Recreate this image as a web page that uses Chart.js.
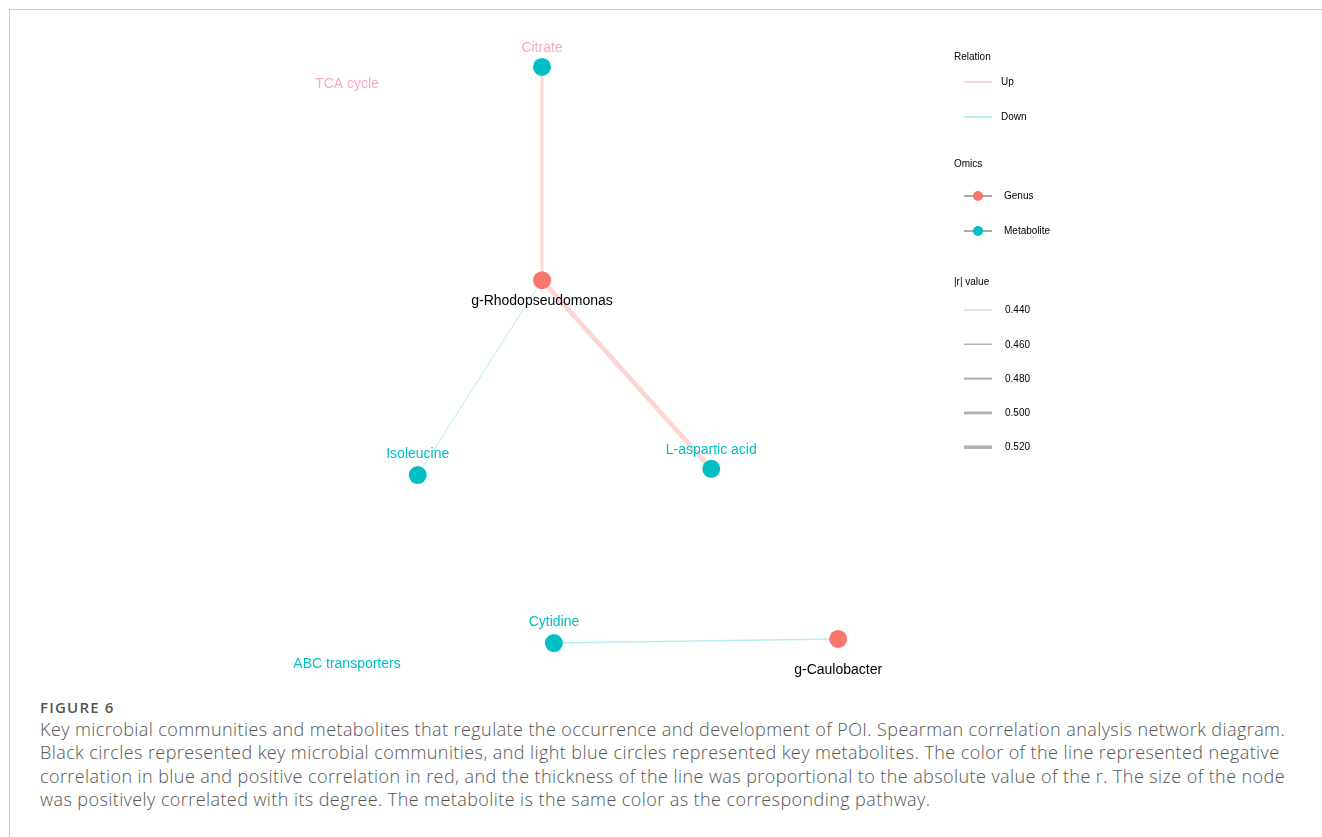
<!DOCTYPE html>
<html>
<head>
<meta charset="utf-8">
<script src="https://cdn.jsdelivr.net/npm/chart.js@4.4.0/dist/chart.umd.min.js"></script>
<style>
  html, body { margin: 0; padding: 0; background: #fff; }
  body { width: 1322px; height: 837px; position: relative; overflow: hidden; }
  #frame { position: absolute; left: 9px; top: 9px; right: 0; bottom: 0;
           border-top: 1px solid #c9c9c9; border-left: 1px solid #c9c9c9; }
  #wrap { position: absolute; left: 0; top: 0; width: 1322px; height: 690px; }
  #caption { position: absolute; left: 40px; top: 698px; white-space: nowrap;
             font-family: "Open Sans", sans-serif; color: #555; }
  #caption .fig { font-size: 15px; font-weight: 600; letter-spacing: 1.2px; line-height: 19px; }
  #caption .txt { font-size: 18px; font-weight: 300; letter-spacing: 0.42px; line-height: 23.4px; margin-top: 1px; }
</style>
</head>
<body>
<div id="frame"></div>
<div id="wrap"><canvas id="net" width="1322" height="690"></canvas></div>
<div id="caption">
  <div class="fig">FIGURE 6</div>
  <div class="txt">Key microbial communities and metabolites that regulate the occurrence and development of POI. Spearman correlation analysis network diagram.<br>Black circles represented key microbial communities, and light blue circles represented key metabolites. The color of the line represented negative<br>correlation in blue and positive correlation in red, and the thickness of the line was proportional to the absolute value of the r. The size of the node<br>was positively correlated with its degree. The metabolite is the same color as the corresponding pathway.</div>
</div>
<script>
// network nodes (layout coordinates in [-1, 1])
const nodeNames = ["Citrate", "g-Rhodopseudomonas", "Isoleucine", "L-aspartic acid", "Cytidine", "g-Caulobacter"];
const nodeTypes = ["Metabolite", "Genus", "Metabolite", "Metabolite", "Metabolite", "Genus"];
const nodePathway = ["TCA cycle", "", "ABC transporters", "ABC transporters", "ABC transporters", ""];
const nodeX = [-0.180, -0.180, -0.368, 0.076, -0.162, 0.268];
const nodeY = [0.806, 0.188, -0.377, -0.359, -0.864, -0.852];

// correlations
const edgeFrom = ["g-Rhodopseudomonas", "g-Rhodopseudomonas", "g-Rhodopseudomonas", "g-Caulobacter"];
const edgeTo = ["Citrate", "Isoleucine", "L-aspartic acid", "Cytidine"];
const edgeRelation = ["Up", "Down", "Up", "Down"];
const edgeR = [0.48, 0.44, 0.52, 0.45];

// pathway annotations
const pathwayNames = ["TCA cycle", "ABC transporters"];
const pathwayX = [-0.475, -0.475];
const pathwayY = [0.757, -0.925];

// legend
const relationLevels = ["Up", "Down"];
const omicsLevels = ["Genus", "Metabolite"];
const rLevels = [0.44, 0.46, 0.48, 0.50, 0.52];

const nodeColor = { Genus: "#F8766D", Metabolite: "#00BFC4" };
const pathwayColor = { "TCA cycle": "#F9A9C6", "ABC transporters": "#00BFC4" };
const relationColor = { Up: "rgba(248,118,109,0.3)", Down: "rgba(0,191,196,0.28)" };
// repelled label nudges (px), default is 21 below genus / 19 above metabolite
const labelNudge = { "g-Caulobacter": 31, "Isoleucine": -21, "Cytidine": -21 };
const FONT = 'Arial, "Liberation Sans", sans-serif';

function widthFor(r) { return 1 + (r - 0.44) * 45; }
function idx(name) { return nodeNames.indexOf(name); }

const nodeData = nodeNames.map((n, i) => ({ x: nodeX[i], y: nodeY[i] }));

const edgeSets = edgeFrom.map((f, i) => ({
  type: "line",
  data: [
    { x: nodeX[idx(f)], y: nodeY[idx(f)] },
    { x: nodeX[idx(edgeTo[i])], y: nodeY[idx(edgeTo[i])] }
  ],
  borderColor: relationColor[edgeRelation[i]],
  borderWidth: widthFor(edgeR[i]),
  pointRadius: 0,
  showLine: true,
  order: 1
}));

const labelPlugin = {
  id: "netLabels",
  afterDatasetsDraw(chart) {
    const ctx = chart.ctx;
    const xs = chart.scales.x, ys = chart.scales.y;
    ctx.save();
    ctx.font = "14px " + FONT;
    ctx.textAlign = "center";
    ctx.textBaseline = "middle";
    nodeNames.forEach((n, i) => {
      const px = xs.getPixelForValue(nodeX[i]);
      const py = ys.getPixelForValue(nodeY[i]);
      const genus = nodeTypes[i] === "Genus";
      const dy = labelNudge[n] !== undefined ? labelNudge[n] : (genus ? 21 : -19);
      ctx.fillStyle = genus ? "#000" : pathwayColor[nodePathway[i]];
      ctx.fillText(n, px, py + dy);
    });
    pathwayNames.forEach((p, i) => {
      ctx.fillStyle = pathwayColor[p];
      ctx.fillText(p, xs.getPixelForValue(pathwayX[i]), ys.getPixelForValue(pathwayY[i]));
    });

    // legend
    ctx.textAlign = "left";
    ctx.fillStyle = "#000";
    ctx.font = "10px " + FONT;
    const lx0 = 964, lx1 = 992;
    ctx.fillText("Relation", 954, 57);
    relationLevels.forEach((r, i) => {
      const y = 82 + i * 35;
      ctx.strokeStyle = relationColor[r];
      ctx.lineWidth = 2;
      ctx.beginPath(); ctx.moveTo(lx0, y); ctx.lineTo(lx1, y); ctx.stroke();
      ctx.fillStyle = "#000";
      ctx.fillText(r, 1001, y + 0.5);
    });
    ctx.fillText("Omics", 954, 164);
    omicsLevels.forEach((o, i) => {
      const y = 196 + i * 35;
      ctx.strokeStyle = "#a9a9a9";
      ctx.lineWidth = 2;
      ctx.beginPath(); ctx.moveTo(lx0, y); ctx.lineTo(lx1, y); ctx.stroke();
      ctx.fillStyle = nodeColor[o];
      ctx.beginPath(); ctx.arc(978, y, 5, 0, Math.PI * 2); ctx.fill();
      ctx.fillStyle = "#000";
      ctx.fillText(o, 1004, y + 0.5);
    });
    ctx.fillText("|r| value", 954, 282);
    rLevels.forEach((r, i) => {
      const y = 310 + i * 34.3;
      ctx.strokeStyle = i === 0 ? "#d6d6d6" : "#b0b0b0";
      ctx.lineWidth = Math.max(1.3, widthFor(r) * 0.75);
      ctx.beginPath(); ctx.moveTo(lx0, y); ctx.lineTo(lx1, y); ctx.stroke();
      ctx.fillStyle = "#000";
      ctx.fillText(r.toFixed(3), 1005, y + 0.5);
    });
    ctx.restore();
  }
};

new Chart(document.getElementById("net"), {
  type: "scatter",
  data: {
    datasets: [
      {
        data: nodeData,
        backgroundColor: nodeTypes.map(t => nodeColor[t]),
        borderWidth: 0,
        pointRadius: 9,
        order: 0
      },
      ...edgeSets
    ]
  },
  options: {
    responsive: false,
    animation: false,
    devicePixelRatio: 1,
    layout: { padding: 0, autoPadding: false },
    scales: {
      x: { type: "linear", min: -1, max: 1, display: false },
      y: { type: "linear", min: -1, max: 1, display: false }
    },
    plugins: { legend: { display: false }, tooltip: { enabled: false } }
  },
  plugins: [labelPlugin]
});
</script>
</body>
</html>
